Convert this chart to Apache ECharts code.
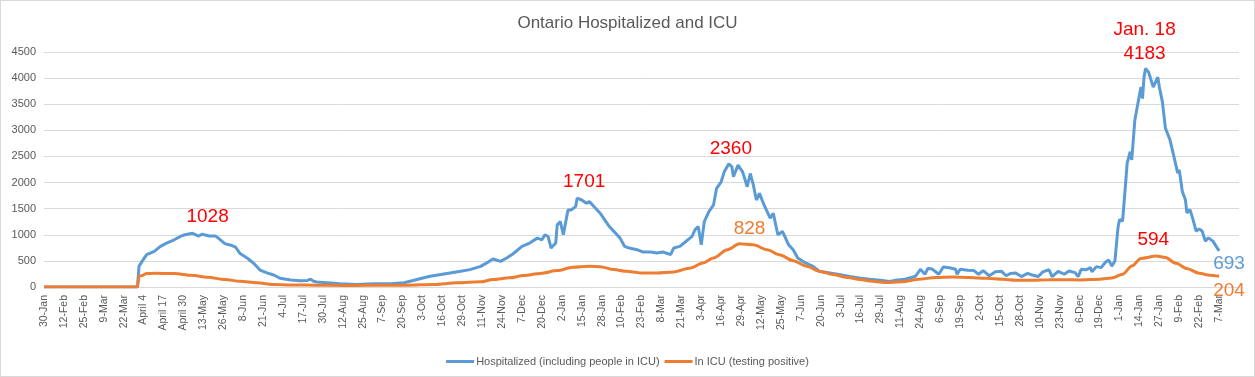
<!DOCTYPE html>
<html>
<head>
<meta charset="utf-8">
<title>Ontario Hospitalized and ICU</title>
<script src="https://cdn.jsdelivr.net/npm/echarts@6.0.0/dist/echarts.min.js"></script>
<style>
  html, body { margin: 0; padding: 0; background: #fff; }
  #chartOnt { width: 1255px; height: 377px; box-sizing: border-box; border: 1px solid #d9d9d9; }
</style>
</head>
<body>
<div id="chartOnt"></div>
<script>
// x labels, one every 13 days starting 30-Jan-2020
const tickLabels = ['30-Jan','12-Feb','25-Feb','9-Mar','22-Mar','April 4','April 17','April 30','13-May','26-May',
  '8-Jun','21-Jun','4-Jul','17-Jul','30-Jul','12-Aug','25-Aug','7-Sep','20-Sep','3-Oct',
  '16-Oct','29-Oct','11-Nov','24-Nov','7-Dec','20-Dec','2-Jan','15-Jan','28-Jan','10-Feb',
  '23-Feb','8-Mar','21-Mar','3-Apr','16-Apr','29-Apr','12-May','25-May','7-Jun','20-Jun',
  '3-Jul','16-Jul','29-Jul','11-Aug','24-Aug','6-Sep','19-Sep','2-Oct','15-Oct','28-Oct',
  '10-Nov','23-Nov','6-Dec','19-Dec','1-Jan','14-Jan','27-Jan','9-Feb','22-Feb','7-Mar'];

// [day since 30-Jan-2020, count]
const hospitalized = [[0,0],[61,0],[62,396],[64,491],[67,619],[72,682],[76,777],[80,841],[85,904],[89,968],
  [92,1000],[97,1028],[101,975],[103,1010],[108,975],[112,975],[114,930],[118,830],[122,800],[125,765],
  [128,640],[133,545],[137,450],[141,325],[146,265],[150,230],[154,168],[161,135],[167,118],[172,125],
  [174,150],[176,110],[178,95],[187,75],[193,61],[204,48],[215,61],[226,61],[235,80],[239,110],
  [246,162],[252,206],[259,238],[265,270],[272,301],[278,333],[285,396],[289,461],[293,537],[298,491],
  [302,556],[306,632],[312,777],[317,841],[322,936],[325,904],[327,1000],[329,968],[331,746],[334,841],
  [335,1190],[337,1253],[339,1000],[340,1158],[342,1476],[344,1476],[347,1539],[348,1701],[351,1666],[354,1603],
  [356,1635],[360,1508],[363,1413],[366,1285],[369,1158],[373,1032],[376,936],[379,777],[382,746],[387,714],
  [391,670],[396,670],[400,651],[404,670],[409,619],[411,746],[415,777],[419,872],[423,968],[425,1100],
  [427,1158],[429,809],[431,1253],[434,1443],[437,1571],[439,1889],[442,2015],[444,2205],[447,2360],[449,2300],
  [450,2110],[453,2333],[456,2205],[459,1920],[461,2174],[463,1952],[465,1666],[467,1793],[470,1571],[474,1318],
  [476,1413],[479,1000],[482,1063],[486,809],[489,714],[492,556],[497,461],[502,396],[506,301],[513,270],
  [519,238],[526,200],[533,170],[539,149],[546,130],[552,105],[556,130],[562,149],[566,181],[569,211],
  [572,339],[575,244],[577,358],[580,339],[584,244],[587,383],[591,370],[595,339],[596,244],[598,339],
  [603,320],[607,314],[610,244],[613,314],[617,215],[621,290],[625,300],[628,215],[631,260],[634,270],
  [638,200],[642,260],[645,230],[649,200],[652,290],[656,330],[658,200],[662,300],[666,244],[669,307],
  [673,276],[675,200],[677,339],[680,330],[683,371],[684,290],[687,390],[690,371],[693,478],[695,516],
  [697,400],[699,497],[701,1133],[702,1291],[704,1260],[706,1990],[707,2370],[709,2590],[710,2433],[712,3195],
  [714,3513],[716,3829],[717,3608],[718,4019],[719,4183],[721,4114],[722,4084],[724,3829],[727,4019],[728,3829],
  [730,3544],[732,3037],[733,3068],[735,2814],[738,2433],[740,2180],[741,2243],[743,1830],[745,1672],[746,1418],
  [748,1482],[750,1291],[752,1068],[754,1113],[756,1068],[758,878],[760,941],[763,878],[765,783],[767,693]];

const inIcu = [[0,0],[61,0],[62,206],[64,219],[67,257],[72,263],[85,257],[96,225],[107,187],[118,143],
  [128,110],[139,80],[150,48],[161,40],[178,35],[196,30],[210,32],[237,34],[254,48],[270,80],
  [285,99],[293,143],[304,175],[313,219],[324,260],[335,314],[345,377],[356,396],[363,390],[372,333],
  [380,301],[389,270],[400,270],[411,289],[422,365],[430,461],[437,556],[446,714],[454,828],[463,809],
  [472,714],[480,619],[489,505],[498,396],[506,301],[515,238],[523,187],[533,143],[539,117],[549,86],
  [560,100],[571,149],[582,181],[593,190],[604,181],[615,168],[626,149],[634,130],[645,130],[656,137],
  [666,140],[676,135],[689,149],[697,173],[704,244],[710,402],[716,548],[726,594],[732,564],[739,453],
  [746,352],[754,263],[761,225],[767,204]];

// annotations: [day, value, text]
const hospNotes = [[97,1028,'1028'],[348,1701,'1701'],[447,2360,'2360'],[719,4183,'Jan. 18\n4183'],[767,693,'693']];
const icuNotes = [[454,828,'828'],[726,594,'594'],[767,204,'204']];

const BLUE = '#5B9BD5';
const ORANGE = '#ED7D31';
const RED = '#FF0000';
const FONT = 'Liberation Sans';

// label offsets (px) from the annotated point, same order as the notes
const hospOffsets = [[15,-17],[7,-16],[2,-15],[-1,-27],[10,13]];
const hospColors = [RED, RED, RED, RED, BLUE];
const icuOffsets = [[10,-15],[-3,-16],[10,14]];
const icuColors = [ORANGE, RED, ORANGE];

function notePoints(notes, offsets, colors) {
  return notes.map(function (n, i) {
    return {
      coord: [n[0], n[1]],
      value: n[2],
      label: {
        show: true,
        position: 'inside',
        offset: offsets[i],
        formatter: n[2],
        color: colors[i],
        fontSize: 19,
        lineHeight: 24,
        fontFamily: FONT,
        align: 'center'
      }
    };
  });
}

let myChart = echarts.init(document.getElementById('chartOnt'));
myChart.setOption({
  animation: false,
  title: {
    text: 'Ontario Hospitalized and ICU',
    left: 'center',
    top: 9,
    textStyle: { fontSize: 17, fontWeight: 'normal', color: '#595959', fontFamily: FONT }
  },
  legend: {
    left: 'center',
    top: 350,
    icon: 'rect',
    itemWidth: 28,
    itemHeight: 3,
    itemGap: 5,
    textStyle: { fontSize: 11, color: '#595959', fontFamily: FONT, padding: [0, 0, 0, -3] },
    data: ['Hospitalized (including people in ICU)', 'In ICU (testing positive)']
  },
  grid: { left: 43, right: 15, top: 51, bottom: 89 },
  xAxis: {
    type: 'value',
    min: 0,
    max: 780,
    interval: 13,
    axisLine: { show: true, lineStyle: { color: '#d9d9d9' } },
    axisTick: { show: false },
    splitLine: { show: false },
    axisLabel: {
      rotate: 90,
      margin: 8,
      fontSize: 10.5,
      color: '#595959',
      fontFamily: FONT,
      showMaxLabel: false,
      formatter: function (v) { return tickLabels[Math.round(v / 13)] || ''; }
    }
  },
  yAxis: {
    type: 'value',
    min: 0,
    max: 4500,
    interval: 500,
    axisLine: { show: false },
    axisTick: { show: false },
    splitLine: { lineStyle: { color: '#d9d9d9', width: 1 } },
    axisLabel: {
      fontSize: 11, color: '#595959', fontFamily: FONT, margin: 8,
      formatter: function (v) { return String(v); }
    }
  },
  series: [
    {
      name: 'Hospitalized (including people in ICU)',
      type: 'line',
      data: hospitalized,
      showSymbol: false,
      symbol: 'none',
      color: BLUE,
      lineStyle: { width: 3, color: BLUE },
      markPoint: { symbol: 'circle', symbolSize: 0, silent: true, data: notePoints(hospNotes, hospOffsets, hospColors) }
    },
    {
      name: 'In ICU (testing positive)',
      type: 'line',
      data: inIcu,
      showSymbol: false,
      symbol: 'none',
      smooth: 0.3,
      smoothMonotone: 'x',
      color: ORANGE,
      lineStyle: { width: 3, color: ORANGE },
      markPoint: { symbol: 'circle', symbolSize: 0, silent: true, data: notePoints(icuNotes, icuOffsets, icuColors) }
    }
  ]
});
</script>
</body>
</html>
